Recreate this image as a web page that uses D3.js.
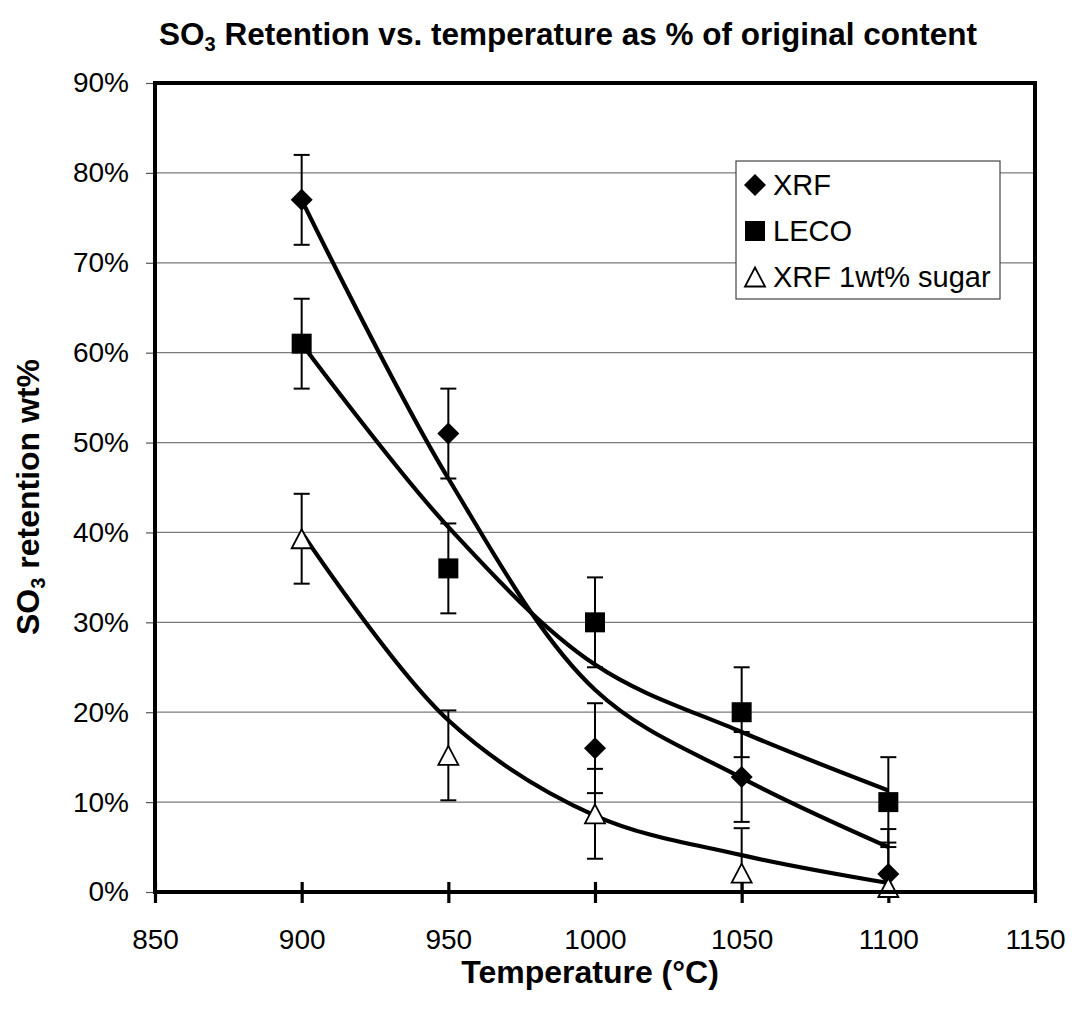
<!DOCTYPE html>
<html>
<head>
<meta charset="utf-8">
<script src="https://cdn.jsdelivr.net/npm/d3@7"></script>
<style>
  html, body { margin: 0; padding: 0; background: #fff; }
  svg { display: block; font-family: "Liberation Sans", Arial, sans-serif; }
</style>
</head>
<body>
<svg id="chart" width="1075" height="1013"></svg>
<script>
// Temperatures (°C) at which samples were measured
const temperatures = [900, 950, 1000, 1050, 1100];

// Measured SO3 retention (% of original content)
const xrfValues   = [77, 51, 16, 12.8, 2];
const lecoValues  = [61, 36, 30, 20, 10];
const sugarValues = [39.3, 15.2, 8.7, 2.1, 0.5];

// Error bar half-widths (percentage points)
const xrfErrors   = [5, 5, 5, 5, 5];
const lecoErrors  = [5, 5, 5, 5, 5];
const sugarErrors = [5, 5, 5, 5, 5];

// Fitted curves evaluated at each temperature
const xrfFit   = [77, 46, 22.5, 12.7, 5.0];
const lecoFit  = [61, 40.6, 25.3, 17.8, 11.3];
const sugarFit = [40, 19.1, 8.5, 4.1, 1.0];

// Axis ticks
const xTicks = [850, 900, 950, 1000, 1050, 1100, 1150];
const yTicks = [0, 10, 20, 30, 40, 50, 60, 70, 80, 90];

const seriesNames = ["XRF", "LECO", "XRF 1wt% sugar"];

const svg = d3.select("#chart");
const margin = { left: 155, top: 83, right: 40, bottom: 121 };
const W = 1075, H = 1013;
const x = d3.scaleLinear().domain([850, 1150]).range([margin.left, W - margin.right]);
const y = d3.scaleLinear().domain([0, 90]).range([H - margin.bottom, margin.top]);

const plotLeft = x(850), plotRight = x(1150), plotTop = y(90), plotBottom = y(0);

svg.append("defs").append("clipPath").attr("id", "plotClip")
  .append("rect")
  .attr("x", plotLeft).attr("y", plotTop)
  .attr("width", plotRight - plotLeft).attr("height", plotBottom - plotTop);

// Horizontal gridlines
svg.append("g")
  .selectAll("line")
  .data(yTicks.filter(d => d > 0 && d < 90))
  .join("line")
  .attr("x1", plotLeft).attr("x2", plotRight)
  .attr("y1", d => y(d)).attr("y2", d => y(d))
  .attr("stroke", "#7a7a7a").attr("stroke-width", 1.3);

// Y axis: labels and small outward ticks
const yAxis = d3.axisLeft(y)
  .tickValues(yTicks)
  .tickFormat(d => d + "%")
  .tickSize(9)
  .tickPadding(17);
const gy = svg.append("g").attr("transform", `translate(${plotLeft},0)`).call(yAxis);
gy.select(".domain").remove();
gy.selectAll(".tick line").attr("stroke", "#555").attr("stroke-width", 1.2);
gy.selectAll(".tick text")
  .attr("font-size", 28).attr("fill", "#000")
  .attr("font-family", "Liberation Sans, Arial, sans-serif");

// X axis: labels and ticks crossing the axis line
const xAxis = d3.axisBottom(x)
  .tickValues(xTicks)
  .tickFormat(d3.format("d"))
  .tickSize(11)
  .tickPadding(26);
const gx = svg.append("g").attr("transform", `translate(0,${plotBottom})`).call(xAxis);
gx.select(".domain").remove();
gx.selectAll(".tick line")
  .attr("y1", -10)
  .attr("stroke", "#000").attr("stroke-width", 3.2);
gx.selectAll(".tick text")
  .attr("font-size", 28).attr("fill", "#000")
  .attr("font-family", "Liberation Sans, Arial, sans-serif");

// Fitted curves
const fitLine = d3.line()
  .x(d => x(d[0]))
  .y(d => y(d[1]))
  .curve(d3.curveCatmullRom.alpha(0.5));

const fits = [xrfFit, lecoFit, sugarFit];
svg.append("g")
  .selectAll("path")
  .data(fits)
  .join("path")
  .attr("d", f => fitLine(temperatures.map((t, i) => [t, f[i]])))
  .attr("fill", "none")
  .attr("stroke", "#000")
  .attr("stroke-width", 4.2);

// Error bars (clipped to the plot area)
const series = [
  { values: xrfValues, errors: xrfErrors, shape: "diamond" },
  { values: lecoValues, errors: lecoErrors, shape: "square" },
  { values: sugarValues, errors: sugarErrors, shape: "triangle" }
];

const errG = svg.append("g").attr("clip-path", "url(#plotClip)");
const capHalf = 8;
series.forEach(s => {
  const g = errG.append("g");
  const pts = temperatures.map((t, i) => ({ t, v: s.values[i], e: s.errors[i] }));
  g.selectAll("line.stem").data(pts).join("line").attr("class", "stem")
    .attr("x1", d => x(d.t)).attr("x2", d => x(d.t))
    .attr("y1", d => y(d.v + d.e)).attr("y2", d => y(d.v - d.e))
    .attr("stroke", "#000").attr("stroke-width", 2);
  g.selectAll("line.capTop").data(pts).join("line").attr("class", "capTop")
    .attr("x1", d => x(d.t) - capHalf).attr("x2", d => x(d.t) + capHalf)
    .attr("y1", d => y(d.v + d.e)).attr("y2", d => y(d.v + d.e))
    .attr("stroke", "#000").attr("stroke-width", 2);
  g.selectAll("line.capBot").data(pts).join("line").attr("class", "capBot")
    .attr("x1", d => x(d.t) - capHalf).attr("x2", d => x(d.t) + capHalf)
    .attr("y1", d => y(d.v - d.e)).attr("y2", d => y(d.v - d.e))
    .attr("stroke", "#000").attr("stroke-width", 2);
});

// Marker shapes
function markerPath(shape) {
  if (shape === "diamond") return "M0,-11L11,0L0,11L-11,0Z";
  if (shape === "square") return "M-10,-10H10V10H-10Z";
  return "M0,-9.5L10,9.5H-10Z";
}
function markerStyle(sel, shape) {
  if (shape === "triangle") {
    sel.attr("fill", "#fff").attr("stroke", "#000").attr("stroke-width", 1.8);
  } else {
    sel.attr("fill", "#000").attr("stroke", "none");
  }
}

series.forEach(s => {
  const pts = temperatures.map((t, i) => ({ t, v: s.values[i] }));
  svg.append("g").selectAll("path").data(pts).join("path")
    .attr("transform", d => `translate(${x(d.t)},${y(d.v)})`)
    .attr("d", markerPath(s.shape))
    .call(markerStyle, s.shape);
});

// Legend
const legend = svg.append("g");
legend.append("rect")
  .attr("x", 736).attr("y", 161).attr("width", 264).attr("height", 138)
  .attr("fill", "#fff").attr("stroke", "#444").attr("stroke-width", 1.2);
const legendRows = [185, 231, 277];
series.forEach((s, i) => {
  legend.append("path")
    .attr("transform", `translate(755,${legendRows[i]})`)
    .attr("d", markerPath(s.shape))
    .call(markerStyle, s.shape);
  legend.append("text")
    .attr("x", 773).attr("y", legendRows[i] + 10)
    .attr("font-size", 29)
    .text(seriesNames[i]);
});

// Plot frame
svg.append("rect")
  .attr("x", plotLeft).attr("y", plotTop)
  .attr("width", plotRight - plotLeft).attr("height", plotBottom - plotTop)
  .attr("fill", "none").attr("stroke", "#000").attr("stroke-width", 4);

// Chart title
const title = svg.append("text")
  .attr("x", 568).attr("y", 45)
  .attr("text-anchor", "middle")
  .attr("font-size", 31.5).attr("font-weight", "bold");
title.append("tspan").text("SO");
title.append("tspan").attr("font-size", 20).attr("dy", 6).text("3");
title.append("tspan").attr("dy", -6).text(" Retention vs. temperature as %  of original content");

// Axis titles
svg.append("text")
  .attr("x", 590).attr("y", 983)
  .attr("text-anchor", "middle")
  .attr("font-size", 32).attr("font-weight", "bold")
  .text("Temperature (°C)");

const yTitle = svg.append("text")
  .attr("transform", `translate(39,497) rotate(-90)`)
  .attr("text-anchor", "middle")
  .attr("font-size", 32).attr("font-weight", "bold");
yTitle.append("tspan").text("SO");
yTitle.append("tspan").attr("font-size", 20).attr("dy", 6).text("3");
yTitle.append("tspan").attr("dy", -6).text(" retention wt%");
</script>
</body>
</html>
